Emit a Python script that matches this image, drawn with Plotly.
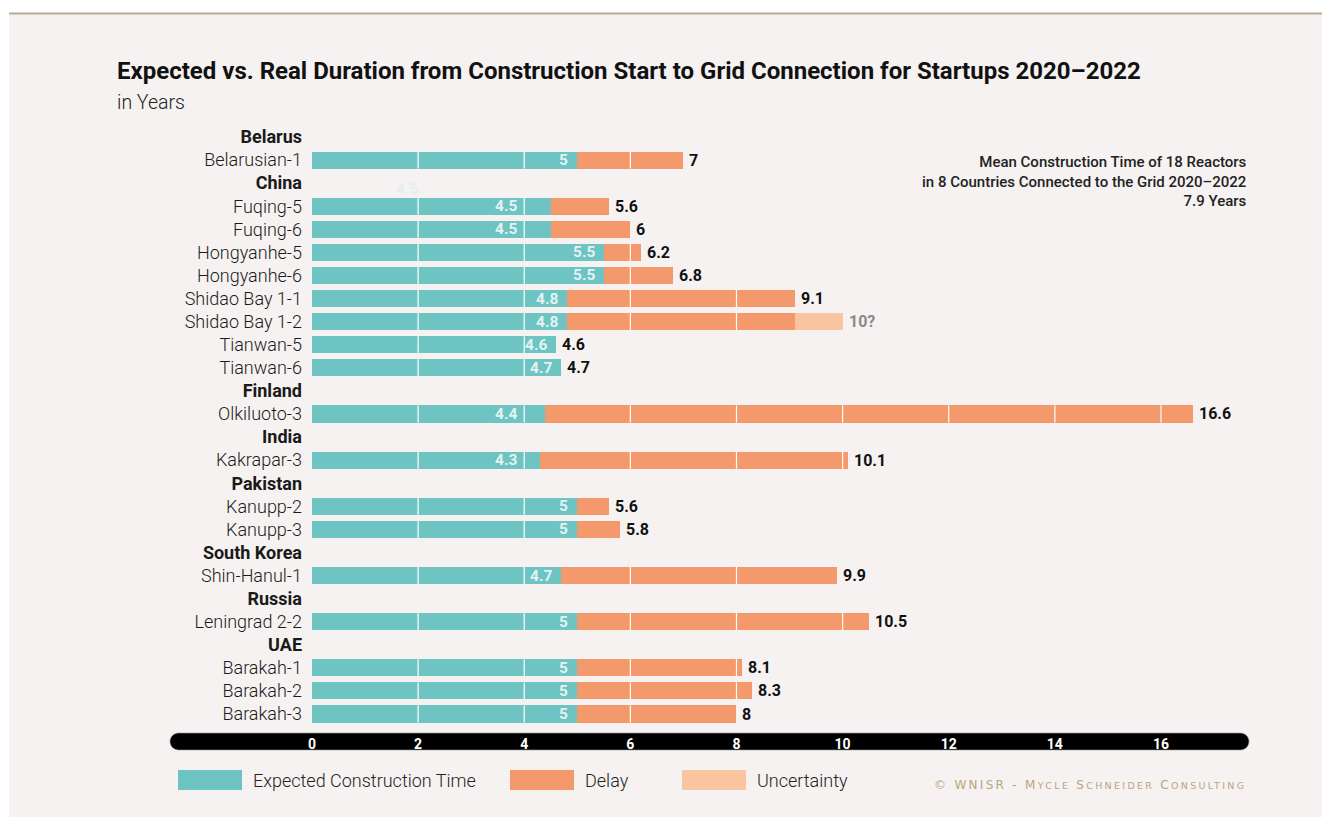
import plotly.graph_objects as go

# ---------------- data ----------------
countries = ["Belarus", "China", "China", "China", "China", "China", "China", "China", "China",
             "Finland", "India", "Pakistan", "Pakistan", "South Korea", "Russia", "UAE", "UAE", "UAE"]
reactors = ["Belarusian-1", "Fuqing-5", "Fuqing-6", "Hongyanhe-5", "Hongyanhe-6", "Shidao Bay 1-1",
            "Shidao Bay 1-2", "Tianwan-5", "Tianwan-6", "Olkiluoto-3", "Kakrapar-3", "Kanupp-2",
            "Kanupp-3", "Shin-Hanul-1", "Leningrad 2-2", "Barakah-1", "Barakah-2", "Barakah-3"]
expected = [5, 4.5, 4.5, 5.5, 5.5, 4.8, 4.8, 4.6, 4.7, 4.4, 4.3, 5, 5, 4.7, 5, 5, 5, 5]
real = [7, 5.6, 6, 6.2, 6.8, 9.1, 9.1, 4.6, 4.7, 16.6, 10.1, 5.6, 5.8, 9.9, 10.5, 8.1, 8.3, 8]
uncertain_end = [None, None, None, None, None, None, 10, None, None, None, None, None, None, None, None, None, None, None]
total_labels = ["7", "5.6", "6", "6.2", "6.8", "9.1", "10?", "4.6", "4.7", "16.6", "10.1", "5.6",
                "5.8", "9.9", "10.5", "8.1", "8.3", "8"]
x_ticks = [0, 2, 4, 6, 8, 10, 12, 14, 16]
legend_labels = ["Expected Construction Time", "Delay", "Uncertainty"]

TEAL = "#6dc4c2"
ORANGE = "#f3996b"
UNC = "#f9c5a0"
BG = "#f6f2f1"

# ---------------- rows (headers + reactors) ----------------
tick_vals, tick_text, rpos = [], [], []
row = 0
prev = None
for c, r in zip(countries, reactors):
    if c != prev:
        tick_vals.append(row); tick_text.append(f"<b>{c}</b>"); row += 1
        prev = c
    tick_vals.append(row); tick_text.append(r); rpos.append(row); row += 1

# ---------------- geometry helpers (pixels -> paper) ----------------
L, W, T, H = 312, 937, 126, 607
FW, FH = 1322, 817
X_MAX = (1249 - L) / 53.06
UNIT = W / X_MAX
def px(x): return (x - L) / W
def py(y): return (T + H - y) / H

FONT = "Roboto"
BW = 0.74

fig = go.Figure()

# expected
fig.add_trace(go.Bar(
    y=rpos, x=expected, base=[0] * len(expected), orientation="h", width=BW,
    marker=dict(color=TEAL, line=dict(width=0)),
    showlegend=False, hoverinfo="skip"))

# delay
d_y = [p for p, e, r in zip(rpos, expected, real) if r > e]
d_base = [e for e, r in zip(expected, real) if r > e]
d_x = [round(r - e, 3) for e, r in zip(expected, real) if r > e]
fig.add_trace(go.Bar(
    y=d_y, x=d_x, base=d_base, orientation="h", width=BW,
    marker=dict(color=ORANGE, line=dict(width=0)), showlegend=False, hoverinfo="skip"))

# uncertainty
u_y = [p for p, u in zip(rpos, uncertain_end) if u is not None]
u_base = [r for r, u in zip(real, uncertain_end) if u is not None]
u_x = [round(u - r, 3) for r, u in zip(real, uncertain_end) if u is not None]
fig.add_trace(go.Bar(
    y=u_y, x=u_x, base=u_base, orientation="h", width=BW,
    marker=dict(color=UNC, line=dict(width=0)), showlegend=False, hoverinfo="skip"))

annotations = []
# labels inside the teal bars (right-aligned near the end, kept clear of the white gridlines)
def text_w(s):
    return sum(4.2 if ch == "." else 8.6 for ch in s)
for yy, e in zip(rpos, expected):
    lab = f"{e:g}"
    right = e * UNIT - 8
    left = right - text_w(lab)
    for t in x_ticks[1:]:
        g = t * UNIT
        if left < g + 2 and right > g - 2:
            right = g - 6
    annotations.append(dict(x=e, y=yy, xref="x", yref="y", text=lab, showarrow=False,
                            xanchor="right", yanchor="middle", xshift=right - e * UNIT + 1,
                            font=dict(family=FONT, size=15.5, weight="bold", color="#e2f3f2")))

# end labels
end_x = [u if u is not None else r for r, u in zip(real, uncertain_end)]
for yy, xx, lab, u in zip(rpos, end_x, total_labels, uncertain_end):
    annotations.append(dict(x=xx, y=yy, xref="x", yref="y", text=lab, showarrow=False,
                            xanchor="left", yanchor="middle", xshift=4,
                            font=dict(family=FONT, size=16, weight="bold",
                                      color="#8a8a8a" if u is not None else "#111111")))

shapes = []
# panel background + top rule
shapes.append(dict(type="rect", xref="paper", yref="paper", x0=px(9), x1=px(FW + 2), y0=py(FH + 2), y1=py(14),
                   fillcolor=BG, line=dict(width=0), layer="below"))
shapes.append(dict(type="line", xref="paper", yref="paper", x0=px(9), x1=px(FW + 2), y0=py(13.5), y1=py(13.5),
                   line=dict(color="#b9aa92", width=2), layer="below"))
# white gridlines drawn only across the bars
for yy, xx in zip(rpos, end_x):
    for t in x_ticks[1:]:
        if t < xx - 0.02:
            shapes.append(dict(type="line", xref="x", yref="y", x0=t, x1=t,
                               y0=yy - BW / 2, y1=yy + BW / 2,
                               line=dict(color="white", width=1.2), layer="above"))
# black pill axis band
x0, x1, y0, y1 = 170, 1249, 733, 750
r = 8.5; k = 0.5523; cy = (y0 + y1) / 2
def P(x, y): return f"{px(x):.5f},{py(y):.5f}"
path = ("M " + P(x0 + r, y0) + " L " + P(x1 - r, y0) +
        " C " + P(x1 - r + k * r, y0) + " " + P(x1, cy - k * r) + " " + P(x1, cy) +
        " C " + P(x1, cy + k * r) + " " + P(x1 - r + k * r, y1) + " " + P(x1 - r, y1) +
        " L " + P(x0 + r, y1) +
        " C " + P(x0 + r - k * r, y1) + " " + P(x0, cy + k * r) + " " + P(x0, cy) +
        " C " + P(x0, cy - k * r) + " " + P(x0 + r - k * r, y0) + " " + P(x0 + r, y0) + " Z")
shapes.append(dict(type="path", xref="paper", yref="paper", path=path, fillcolor="#000000",
                   line=dict(color="#9a9a9a", width=0.6), layer="below"))
# legend swatches
for (lx, col) in [(178, TEAL), (510, ORANGE), (682, UNC)]:
    shapes.append(dict(type="rect", xref="paper", yref="paper", x0=px(lx), x1=px(lx + 64),
                       y0=py(790), y1=py(770), fillcolor=col, line=dict(width=0)))

annotations.append(dict(xref="paper", yref="paper", x=px(115), y=py(71), xanchor="left", yanchor="middle",
                        text="Expected vs. Real Duration from Construction Start to Grid Connection for Startups 2020–2022",
                        showarrow=False, font=dict(family=FONT, size=24, color="#111", weight="bold")))
annotations.append(dict(xref="paper", yref="paper", x=px(115), y=py(103), xanchor="left", yanchor="middle",
                        text="in Years", showarrow=False,
                        font=dict(family=FONT, size=19.5, color="#222", weight=300)))
annotations.append(dict(xref="paper", yref="paper", x=px(1249), y=py(181), xanchor="right", yanchor="middle",
                        align="right", showarrow=False,
                        text="Mean Construction Time of 18 Reactors<br>in 8 Countries Connected to the Grid 2020–2022<br>7.9 Years",
                        font=dict(family=FONT, size=15, color="#222", weight=500)))
for (lx, txt) in zip([251, 583, 755], legend_labels):
    annotations.append(dict(xref="paper", yref="paper", x=px(lx), y=py(780), xanchor="left", yanchor="middle",
                            text=txt, showarrow=False, font=dict(family=FONT, size=18, color="#222", weight=300)))
sc = "font-size:9.5px"
annotations.append(dict(xref="paper", yref="paper", x=px(1248), y=py(785), xanchor="right", yanchor="middle",
                        showarrow=False,
                        text=(f"<span style='letter-spacing:2.3px'>© WNISR - M<span style='{sc}'>YCLE</span> "
                              f"S<span style='{sc}'>CHNEIDER</span> C<span style='{sc}'>ONSULTING</span></span>"),
                        font=dict(family="DejaVu Sans", size=12, color="#b9a57e")))
# faint ghost label seen in reference
annotations.append(dict(x=1.79, y=2.27, xref="x", yref="y", text="4.5", showarrow=False,
                        font=dict(family=FONT, size=15.5, color="#e3efee", weight="bold")))

row_h = 23.08
y_top = -0.5 + (T - (137 - row_h / 2)) / row_h
y_bot = y_top + H / row_h

fig.update_layout(
    width=FW, height=FH,
    margin=dict(l=L, r=FW - L - W, t=T, b=FH - T - H),
    paper_bgcolor="white", plot_bgcolor="rgba(0,0,0,0)",
    barmode="overlay", bargap=0,
    font=dict(family=FONT),
    shapes=shapes, annotations=annotations,
    xaxis=dict(range=[0, X_MAX], tickvals=x_ticks, ticktext=[str(t) for t in x_ticks],
               showgrid=False, zeroline=False, showline=False, ticks="",
               tickfont=dict(color="white", size=14, family=FONT, weight="bold"),
               ticklabelstandoff=1, fixedrange=True),
    yaxis=dict(range=[y_bot, y_top], tickvals=tick_vals, ticktext=tick_text,
               showgrid=False, zeroline=False, showline=False, ticks="",
               tickfont=dict(color="#1a1a1a", size=18, family=FONT, weight=300),
               ticklabelstandoff=9, fixedrange=True),
)

fig.write_html("out.html", config={"displayModeBar": False},
               post_script="document.body.style.margin='0';document.body.style.overflow='hidden';")
